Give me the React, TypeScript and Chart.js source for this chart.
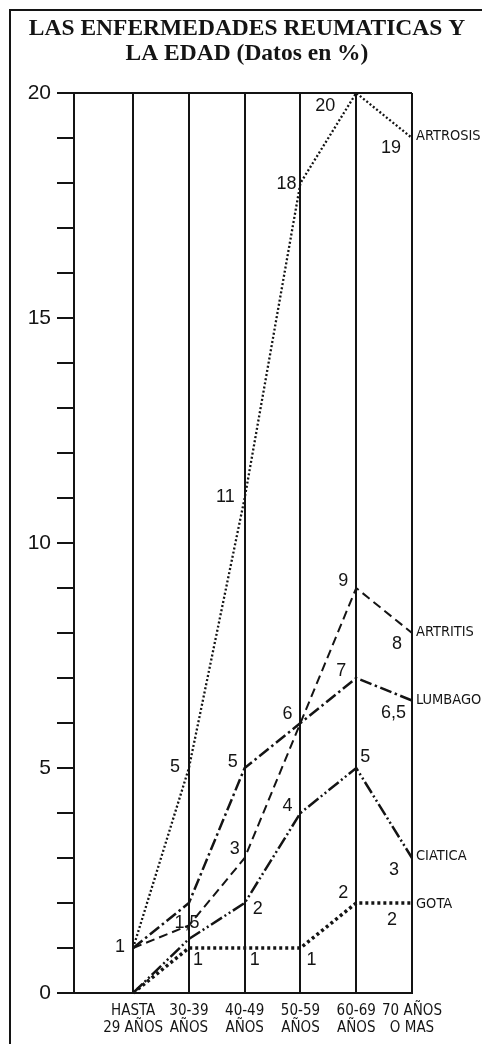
import React, { useEffect, useRef } from 'react';
import { Chart, registerables } from 'chart.js';

Chart.register(...registerables);

// ---- data ----
const categories: string[][] = [
  ['HASTA', '29 AÑOS'],
  ['30-39', 'AÑOS'],
  ['40-49', 'AÑOS'],
  ['50-59', 'AÑOS'],
  ['60-69', 'AÑOS'],
  ['70 AÑOS', 'O MAS'],
];
const xPositions = [0, 1, 2, 3, 4, 5];
const artrosis = [1, 5, 11, 18, 20, 19];
const artritis = [1, 1.5, 3, 6, 9, 8];
const lumbago = [1, 2, 5, 6, 7, 6.5];
const ciatica = [0, 1.2, 2, 4, 5, 3];
const gota = [0, 1, 1, 1, 2, 2];
const seriesNames = ['ARTROSIS', 'ARTRITIS', 'LUMBAGO', 'CIATICA', 'GOTA'];
const yTickLabels = [0, 5, 10, 15, 20];
const titleLines = ['LAS ENFERMEDADES REUMATICAS Y', 'LA EDAD (Datos en %)'];

// ---- styles ----
const INK = '#141414';
const NARROW = '"Liberation Sans Narrow", "DejaVu Sans Condensed", "Liberation Sans", sans-serif';
const SANS = '"Liberation Sans", Arial, sans-serif';
const SERIF = '"Liberation Serif", "Times New Roman", serif';

type LabelPos = [number, number, CanvasTextAlign] | null;
// value-label placement per series / point: [dx, dy, align]
const labelPlacement: LabelPos[][] = [
  [[-8, -1, 'right'], [-9, -1, 'right'], [-10, -1, 'right'], [-4, 1, 'right'], [-21, 13, 'right'], [-11, 10, 'right']],
  [null, [-2, -2, 'center'], [-5, -9, 'right'], [-8, -9, 'right'], [-8, -7, 'right'], [-10, 11, 'right']],
  [null, null, [-7, -6, 'right'], null, [-10, -7, 'right'], [-6, 13, 'right']],
  [null, null, [8, 6, 'left'], [-8, -7, 'right'], [4, -11, 'left'], [-13, 12, 'right']],
  [null, [4, 12, 'left'], [5, 12, 'left'], [6, 12, 'left'], [-8, -10, 'right'], [-15, 17, 'right']],
];
const nameOffsetY = [-2, -1, 0, -2, 1];

const seriesValues = [artrosis, artritis, lumbago, ciatica, gota];
const seriesStyles = [
  { borderWidth: 2.3, borderDash: [2, 2.2] },
  { borderWidth: 2, borderDash: [9, 5] },
  { borderWidth: 2.5, borderDash: [12, 3.5, 2.5, 3.5] },
  { borderWidth: 2.5, borderDash: [13, 3, 2, 3, 2, 3] },
  { borderWidth: 3.5, borderDash: [3, 3] },
];

const fmt = (v: number) => String(v).replace('.', ',');

const annotate = {
  id: 'annotate',
  beforeDraw(chart: any) {
    const ctx = chart.ctx;
    ctx.save();
    // frame
    ctx.strokeStyle = INK;
    ctx.lineWidth = 2;
    ctx.beginPath();
    ctx.moveTo(482, 10);
    ctx.lineTo(10, 10);
    ctx.lineTo(10, 1044);
    ctx.stroke();
    // title
    ctx.fillStyle = INK;
    ctx.font = `bold 23.5px ${SERIF}`;
    ctx.textAlign = 'center';
    ctx.textBaseline = 'middle';
    ctx.fillText(titleLines[0], 247, 29);
    ctx.fillText(titleLines[1], 247, 54);
    ctx.restore();
  },
  afterDatasetsDraw(chart: any) {
    const ctx = chart.ctx;
    const xs = chart.scales.x;
    const ys = chart.scales.y;
    ctx.save();
    ctx.fillStyle = INK;
    ctx.textBaseline = 'middle';
    seriesValues.forEach((vals, s) => {
      ctx.font = `18px ${SANS}`;
      vals.forEach((v, i) => {
        const p = labelPlacement[s][i];
        if (!p) return;
        const px = xs.getPixelForValue(xPositions[i]);
        const py = ys.getPixelForValue(v);
        ctx.textAlign = p[2];
        ctx.fillText(fmt(v), px + p[0], py + p[1]);
      });
      const last = vals.length - 1;
      ctx.font = `14.5px ${NARROW}`;
      ctx.textAlign = 'left';
      ctx.fillText(
        seriesNames[s],
        xs.getPixelForValue(xPositions[last]) + 4,
        ys.getPixelForValue(vals[last]) + nameOffsetY[s]
      );
    });
    ctx.restore();
  },
};

export default function App() {
  const ref = useRef<HTMLCanvasElement>(null);
  useEffect(() => {
    if (!ref.current) return;
    const chart = new Chart(ref.current, {
      type: 'line',
      data: {
        datasets: seriesValues.map((vals, s) => ({
          label: seriesNames[s],
          data: vals.map((v, i) => ({ x: xPositions[i], y: v })),
          borderColor: INK,
          backgroundColor: INK,
          pointRadius: 0,
          tension: 0,
          fill: false,
          clip: 6,
          borderCapStyle: 'butt',
          ...seriesStyles[s],
        })) as any,
      },
      options: {
        responsive: false,
        animation: false,
        layout: { padding: { top: 93, right: 70, bottom: 0, left: 0 } },
        plugins: { legend: { display: false }, tooltip: { enabled: false }, title: { display: false } },
        scales: {
          x: {
            type: 'linear',
            min: -1.06,
            max: 5,
            afterBuildTicks: (s: any) => {
              s.ticks = xPositions.map((v) => ({ value: v }));
            },
            afterFit: (s: any) => {
              s.height = 51;
            },
            ticks: {
              autoSkip: false,
              maxRotation: 0,
              padding: 10,
              color: INK,
              font: { family: NARROW, size: 15, lineHeight: 1.12 },
              callback: (v: any) => categories[v] ?? '',
            },
            grid: { drawOnChartArea: true, drawTicks: false, color: INK, lineWidth: 2 },
            border: { display: true, color: INK, width: 2 },
          },
          y: {
            type: 'linear',
            min: 0,
            max: 20,
            afterFit: (s: any) => {
              s.width = 74;
            },
            ticks: {
              stepSize: 1,
              autoSkip: false,
              padding: 6,
              color: INK,
              font: { family: SANS, size: 21 },
              callback: (v: any) => (yTickLabels.includes(v) ? String(v) : ''),
            },
            grid: {
              drawOnChartArea: true,
              drawTicks: true,
              tickLength: 17,
              lineWidth: 2,
              tickColor: INK,
              color: (c: any) => (c.tick && c.tick.value === 20 ? INK : 'rgba(0,0,0,0)'),
            },
            border: { display: true, color: INK, width: 2 },
          },
        },
      } as any,
      plugins: [annotate],
    });
    return () => chart.destroy();
  }, []);
  return (
    <div style={{ position: 'absolute', left: 0, top: 0, width: 482, height: 1044, background: '#fff' }}>
      <canvas ref={ref} width={482} height={1044} style={{ display: 'block' }} />
    </div>
  );
}
